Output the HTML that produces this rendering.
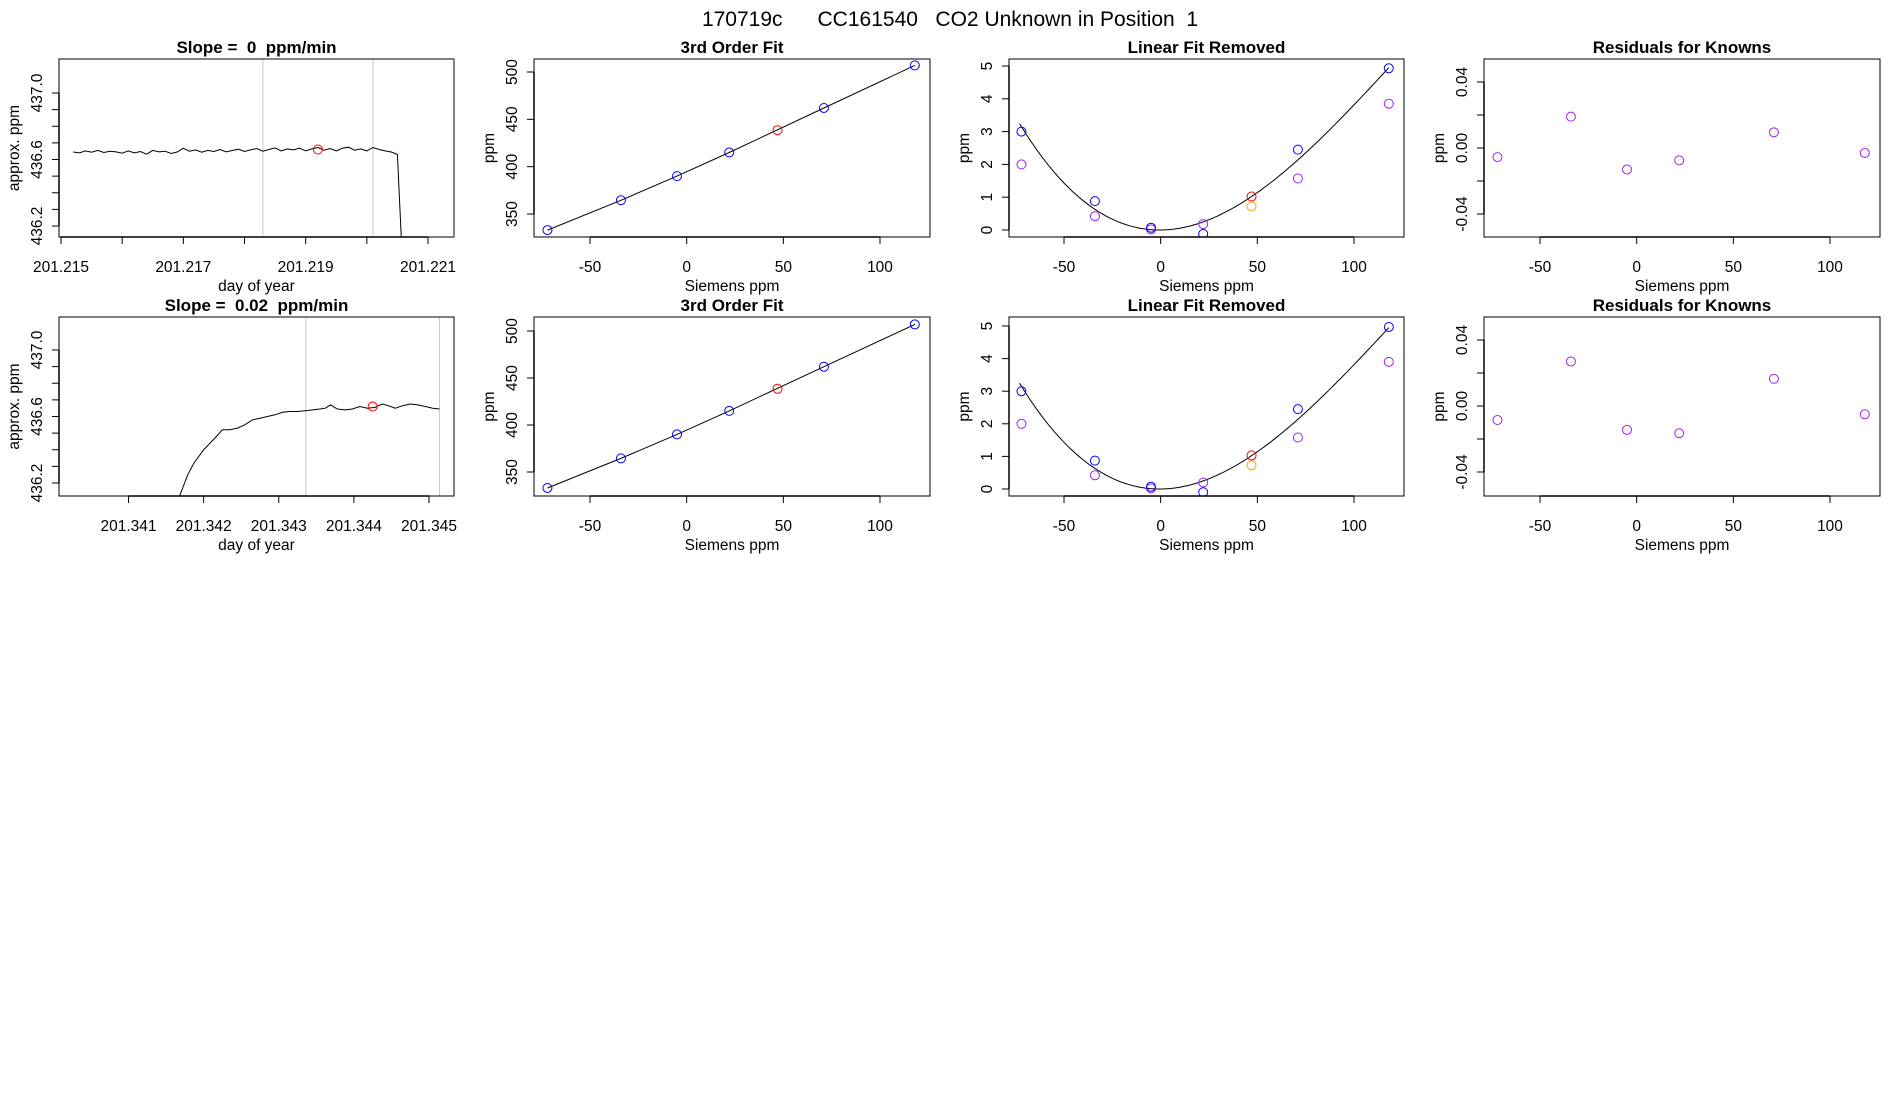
<!DOCTYPE html>
<html><head><meta charset="utf-8"><style>
html,body{margin:0;padding:0;background:#fff;}
svg{display:block;font-family:"Liberation Sans",sans-serif;}
text{white-space:pre;}
</style></head><body>
<svg id="fig" width="1900" height="1100" viewBox="0 0 1900 1100" xmlns="http://www.w3.org/2000/svg">
<text x="950" y="26" text-anchor="middle" font-size="21" xml:space="preserve">170719c      CC161540   CO2 Unknown in Position  1</text>
</svg>
<script>
// ---- data ----
const ts1Times = [];
const ts1Values = [436.645,436.640,436.652,436.644,436.655,436.642,436.650,436.646,436.638,436.652,436.640,436.648,436.632,436.655,436.646,436.650,436.636,436.645,436.668,436.650,436.658,436.644,436.655,436.648,436.660,436.646,436.654,436.662,436.648,436.658,436.666,436.650,436.660,436.670,436.652,436.664,436.658,436.668,436.652,436.664,436.672,436.656,436.666,436.652,436.668,436.674,436.656,436.664,436.652,436.672,436.660,436.652,436.645,436.630,436.000];
const ts1Start = 201.2152, ts1Step = 0.0001;
const ts1Marker = [201.2192, 436.66];
const ts1Vlines = [201.2183, 201.2201];

const ts2Times = [201.34167,201.34179,201.34187,201.34200,201.34215,201.34225,201.34235,201.34245,201.34255,201.34265,201.34275,201.34285,201.34295,201.34305,201.34315,201.34325,201.34335,201.34345,201.34355,201.34362,201.34369,201.34378,201.34388,201.34398,201.34408,201.34418,201.34428,201.34438,201.34446,201.34455,201.34465,201.34475,201.34485,201.34495,201.34505,201.34514];
const ts2Values = [436.11,436.25,436.32,436.40,436.47,436.52,436.52,436.53,436.55,436.58,436.59,436.60,436.61,436.625,436.63,436.63,436.635,436.64,436.645,436.65,436.67,436.645,436.64,436.645,436.66,436.65,436.655,436.675,436.665,436.65,436.665,436.675,436.67,436.66,436.65,436.645];
const ts2Marker = [201.34425, 436.66];
const ts2Vlines = [201.34336, 201.34514];

const siemensX = [-72,-34,-5,22,71,118];
const unknownX = 47;
const fitY1 = [333,364.5,390,415,462,507];
const fitUnknown1 = 438.5;
const fitY2 = [333,364.5,390,415,462,507];
const fitUnknown2 = 438.5;
const linBlue1 = [3.0,0.88,0.07,-0.12,2.45,4.93];
const linPurple1 = [2.0,0.42,0.02,0.18,1.57,3.85];
const linRed1 = 1.02, linOrange1 = 0.72;
const linBlue2 = [3.0,0.87,0.07,-0.1,2.45,4.97];
const linPurple2 = [2.0,0.42,0.02,0.2,1.58,3.9];
const linRed2 = 1.03, linOrange2 = 0.73;
const curveCoef = [0, 0.00058, 0.000515, -0.000001394];
const resid1 = [-0.0055,0.019,-0.013,-0.0075,0.0095,-0.003];
const resid2 = [-0.0085,0.027,-0.0145,-0.0165,0.0165,-0.005];

// ---- drawing ----
const svg = document.getElementById('fig');
const NS = 'http://www.w3.org/2000/svg';
function mk(tag, attrs, parent){ const e=document.createElementNS(NS,tag); for(const k in attrs) e.setAttribute(k,attrs[k]); (parent||svg).appendChild(e); return e; }
function lin(d0,d1,r0,r1){ return v=>r0+(v-d0)*(r1-r0)/(d1-d0); }

let clipId=0;
function panel(o){
  const g=mk('g',{});
  
  
  const L=o.L,R=o.R,T=o.T,B=o.B;
  const cid='clip'+(clipId++);
  const cp=mk('clipPath',{id:cid},g); mk('rect',{x:L,y:T,width:R-L,height:B-T},cp);
  const t=mk('text',{x:(L+R)/2,y:T-6,'text-anchor':'middle','font-size':17,'font-weight':'bold','xml:space':'preserve'},g);
  t.textContent=o.title;
  
  
  const plot=mk('g',{'clip-path':'url(#'+cid+')'},g);
  const xt=o.xticks;
  const ax=mk('g',{},g);
  
  
  mk('line',{x1:o.x(xt[0]),x2:o.x(xt[xt.length-1]),y1:B,y2:B,stroke:'#000','stroke-width':1.5},ax);
  xt.forEach((v,i)=>{ const px=o.x(v); mk('line',{x1:px,x2:px,y1:B,y2:B+7,stroke:'#000'},ax);
    if(o.xlab[i]!==''){ const tx=mk('text',{x:px,y:B+35,'text-anchor':'middle','font-size':15.5},ax); tx.textContent=o.xlab[i]; }});
  const xl=mk('text',{x:(L+R)/2,y:B+54,'text-anchor':'middle','font-size':15.5},g); xl.textContent=o.xtitle;
  
  
  const yt=o.yticks;
  const ay=mk('g',{},g);
  
  
  mk('line',{x1:L,x2:L,y1:o.y(yt[0]),y2:o.y(yt[yt.length-1]),stroke:'#000','stroke-width':1.5},ay);
  yt.forEach((v,i)=>{ const py=o.y(v); mk('line',{x1:L,x2:L-7,y1:py,y2:py,stroke:'#000'},ay);
    if(o.ylab[i]!==''){ const tx=mk('text',{x:L-17,y:py,'text-anchor':'middle','font-size':15.5,transform:`rotate(-90 ${L-17} ${py})`},ay); tx.textContent=o.ylab[i]; }});
  const yl=mk('text',{x:L-40,y:(T+B)/2,'text-anchor':'middle','font-size':15.5,transform:`rotate(-90 ${L-40} ${(T+B)/2})`},g); yl.textContent=o.ytitle;
  
  
  mk('rect',{x:L,y:T,width:R-L,height:B-T,fill:'none',stroke:'#000','stroke-width':1},g);
  return {g,plot};
}
function circ(parent,x,y,color,name){
  const c=mk('circle',{cx:x,cy:y,r:4.5,fill:'none',stroke:color,'stroke-width':1},parent);
  
  
}
function tsPanel(T,B,times,vals,marker,vlines,xd,xticks,xlab,name,title){
  const x=lin(xd[0],xd[1],xd[2],xd[3]);
  const yy=v=>T+(T===59?93-59:350-317)+(437.0-v)*(66.5/0.4);
  const p=panel({name,title,L:59,R:454,T,B,x,y:yy,xticks,xlab,xtitle:'day of year',
    yticks:[436.2,436.3,436.4,436.5,436.6,436.7,436.8,436.9,437.0],ylab:['436.2','','','','436.6','','','','437.0'],ytitle:'approx. ppm'});
  vlines.forEach(v=>{ const l=mk('line',{x1:x(v),x2:x(v),y1:T,y2:B,stroke:'#c8c8c8'},p.plot);
    
     });
  const pts=times.map((t,i)=>x(t).toFixed(1)+','+yy(vals[i]).toFixed(1)).join(' ');
  const pl=mk('polyline',{points:pts,fill:'none',stroke:'#000','stroke-width':1},p.plot);
  
  
  circ(p.plot,x(marker[0]),yy(marker[1]),'#ff0000','unknown-mean-marker');
}
ts1Values.forEach((v,i)=>ts1Times.push(ts1Start+ts1Step*Math.min(i,53)+(i===54?0.00008:0)));
tsPanel(59,237,ts1Times,ts1Values,ts1Marker,ts1Vlines,[201.215,201.221,61,428],
  [201.215,201.216,201.217,201.218,201.219,201.220,201.221],['201.215','','201.217','','201.219','','201.221'],'timeseries-panel-1','Slope =  0  ppm/min');
tsPanel(317,496,ts2Times,ts2Values,ts2Marker,ts2Vlines,[201.341,201.345,128.5,429],
  [201.341,201.342,201.343,201.344,201.345],['201.341','201.342','201.343','201.344','201.345'],'timeseries-panel-2','Slope =  0.02  ppm/min');

const sxTicks=[-50,0,50,100], sxLab=['-50','0','50','100'];
function fitPanel(T,B,yv,yu,y500,y350,name){
  const x=lin(-50,100,590,880);
  const y=lin(350,500,y350,y500);
  const p=panel({name,title:'3rd Order Fit',L:534,R:930,T,B,x,y,xticks:sxTicks,xlab:sxLab,xtitle:'Siemens ppm',
    yticks:[350,400,450,500],ylab:['350','400','450','500'],ytitle:'ppm'});
  const pts=siemensX.map((v,i)=>x(v).toFixed(1)+','+y(yv[i]).toFixed(1)).join(' ');
  const l=mk('polyline',{points:pts,fill:'none',stroke:'#000'},p.plot);
  
  
  siemensX.forEach((v,i)=>circ(p.plot,x(v),y(yv[i]),'#0000ff','known-point'));
  circ(p.plot,x(unknownX),y(yu),'#ff0000','unknown-point');
}
fitPanel(59,237,fitY1,fitUnknown1,72,214,'fit-panel-1');
fitPanel(317,496,fitY2,fitUnknown2,331,472,'fit-panel-2');

function linPanel(T,B,blue,purple,red,orange,y5,y0,name){
  const x=lin(-50,100,1064,1354);
  const y=lin(0,5,y0,y5);
  const p=panel({name,title:'Linear Fit Removed',L:1009,R:1404,T,B,x,y,xticks:sxTicks,xlab:sxLab,xtitle:'Siemens ppm',
    yticks:[0,1,2,3,4,5],ylab:['0','1','2','3','4','5'],ytitle:'ppm'});
  const cp=[];
  for(let s=-73;s<=118;s+=1){ const v=curveCoef[0]+curveCoef[1]*s+curveCoef[2]*s*s+curveCoef[3]*s*s*s; cp.push(x(s).toFixed(1)+','+y(v).toFixed(1)); }
  const l=mk('polyline',{points:cp.join(' '),fill:'none',stroke:'#000'},p.plot);
  
  
  siemensX.forEach((v,i)=>circ(p.plot,x(v),y(purple[i]),'#a020f0','purple-point'));
  siemensX.forEach((v,i)=>circ(p.plot,x(v),y(blue[i]),'#0000ff','blue-point'));
  circ(p.plot,x(unknownX),y(orange),'#ffa500','orange-point');
  circ(p.plot,x(unknownX),y(red),'#ff0000','red-point');
}
linPanel(59,237,linBlue1,linPurple1,linRed1,linOrange1,66,230,'linear-removed-panel-1');
linPanel(317,496,linBlue2,linPurple2,linRed2,linOrange2,326,489,'linear-removed-panel-2');

function resPanel(T,B,res,yp,y0,name){
  const x=lin(-50,100,590+950,880+950);
  const y=lin(0,0.04,y0,yp);
  const p=panel({name,title:'Residuals for Knowns',L:1484,R:1880,T,B,x,y,xticks:sxTicks,xlab:sxLab,xtitle:'Siemens ppm',
    yticks:[-0.04,-0.02,0,0.02,0.04],ylab:['-0.04','','0.00','','0.04'],ytitle:'ppm'});
  siemensX.forEach((v,i)=>circ(p.plot,x(v),y(res[i]),'#a020f0','residual-point'));
}
resPanel(59,237,resid1,82,148,'residuals-panel-1');
resPanel(317,496,resid2,340,406,'residuals-panel-2');
</script>
</body></html>
